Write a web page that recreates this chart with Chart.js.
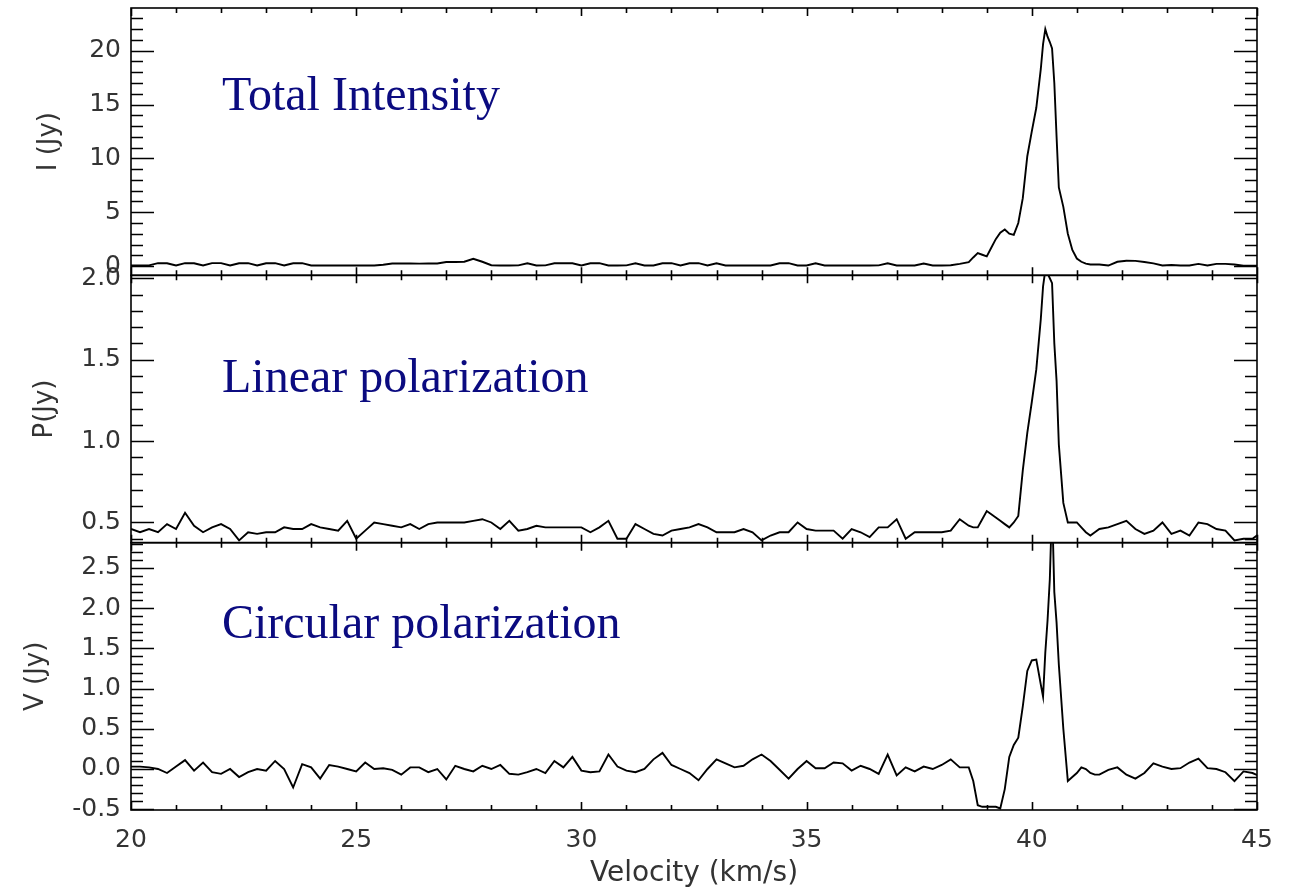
<!DOCTYPE html>
<html>
<head>
<meta charset="utf-8">
<script src="https://cdn.jsdelivr.net/npm/chart.js@4.4.1/dist/chart.umd.min.js"></script>
<style>
  html, body { margin: 0; padding: 0; background: #fff; }
  canvas { display: block; }
</style>
</head>
<body>
<canvas id="spectra" width="1289" height="891"></canvas>
<script>
// channel velocities (km/s): coarse on the baseline, finer across the line
const velocity = [
  20.0, 20.2, 20.4, 20.6, 20.8, 21.0, 21.2, 21.4, 21.6, 21.8,
  22.0, 22.2, 22.4, 22.6, 22.8, 23.0, 23.2, 23.4, 23.6, 23.8,
  24.0, 24.2, 24.4, 24.6, 24.8, 25.0, 25.2, 25.4, 25.6, 25.8,
  26.0, 26.2, 26.4, 26.6, 26.8, 27.0, 27.2, 27.4, 27.6, 27.8,
  28.0, 28.2, 28.4, 28.6, 28.8, 29.0, 29.2, 29.4, 29.6, 29.8,
  30.0, 30.2, 30.4, 30.6, 30.8, 31.0, 31.2, 31.4, 31.6, 31.8,
  32.0, 32.2, 32.4, 32.6, 32.8, 33.0, 33.2, 33.4, 33.6, 33.8,
  34.0, 34.2, 34.4, 34.6, 34.8, 35.0, 35.2, 35.4, 35.6, 35.8,
  36.0, 36.2, 36.4, 36.6, 36.8, 37.0, 37.2, 37.4, 37.6, 37.8,
  38.0, 38.2, 38.4, 38.6,
  38.7, 38.8, 38.9, 39.0, 39.1, 39.2, 39.3, 39.4, 39.5, 39.6, 39.7, 39.8, 39.9, 40.0, 40.1, 40.2,
  40.25, 40.3, 40.35, 40.4, 40.45, 40.5, 40.55,
  40.6, 40.7, 40.8, 40.9, 41.0, 41.1, 41.2, 41.3, 41.4, 41.5,
  41.7, 41.9, 42.1, 42.3, 42.5, 42.7, 42.9, 43.1, 43.3, 43.5, 43.7, 43.9, 44.1, 44.3, 44.5, 44.7, 44.9, 45.1
];

// Stokes I (Jy)
const stokesI = [
  0.05, 0.05, 0.06, 0.27, 0.26, 0.06, 0.27, 0.26, 0.05, 0.27,
  0.27, 0.05, 0.26, 0.27, 0.05, 0.26, 0.27, 0.06, 0.26, 0.27,
  0.05, 0.05, 0.06, 0.05, 0.05, 0.05, 0.06, 0.05, 0.12, 0.24,
  0.24, 0.24, 0.23, 0.24, 0.24, 0.38, 0.38, 0.40, 0.68, 0.40,
  0.08, 0.05, 0.05, 0.06, 0.26, 0.05, 0.06, 0.26, 0.27, 0.26,
  0.05, 0.26, 0.27, 0.05, 0.05, 0.06, 0.26, 0.05, 0.05, 0.26,
  0.27, 0.05, 0.26, 0.27, 0.05, 0.26, 0.05, 0.05, 0.06, 0.05,
  0.05, 0.05, 0.26, 0.27, 0.05, 0.05, 0.26, 0.05, 0.05, 0.06,
  0.05, 0.05, 0.05, 0.06, 0.26, 0.05, 0.05, 0.05, 0.24, 0.05,
  0.05, 0.08, 0.20, 0.37,
  0.8, 1.2, 1.05, 0.9, 1.7, 2.5, 3.1, 3.4, 3.0, 2.9, 4.0, 6.3, 10.2, 12.5, 14.7, 18.3,
  20.6, 22.0, 21.3, 20.8, 20.2, 17.0, 12.0,
  7.3, 5.5, 3.0, 1.5, 0.7, 0.4, 0.22, 0.15, 0.15, 0.15,
  0.05, 0.40, 0.50, 0.48, 0.38, 0.25, 0.05, 0.10, 0.05, 0.05, 0.20, 0.05, 0.20, 0.20, 0.15, 0.03, 0.03, 0.03
];

// linearly polarized flux P (Jy)
const stokesP = [
  0.46, 0.44, 0.46, 0.44, 0.49, 0.46, 0.56, 0.48, 0.44, 0.47,
  0.49, 0.46, 0.39, 0.44, 0.43, 0.44, 0.44, 0.47, 0.46, 0.46,
  0.49, 0.47, 0.46, 0.45, 0.51, 0.40, 0.45, 0.50, 0.49, 0.48,
  0.47, 0.49, 0.46, 0.49, 0.50, 0.50, 0.50, 0.50, 0.51, 0.52,
  0.50, 0.46, 0.51, 0.45, 0.46, 0.48, 0.47, 0.47, 0.47, 0.47,
  0.47, 0.44, 0.47, 0.51, 0.40, 0.40, 0.49, 0.46, 0.43, 0.42,
  0.45, 0.46, 0.47, 0.49, 0.47, 0.44, 0.44, 0.44, 0.46, 0.44,
  0.39, 0.42, 0.44, 0.44, 0.50, 0.46, 0.45, 0.45, 0.45, 0.40,
  0.46, 0.44, 0.41, 0.47, 0.47, 0.52, 0.40, 0.44, 0.44, 0.44,
  0.44, 0.45, 0.52, 0.48,
  0.47, 0.47, 0.52, 0.57, 0.55, 0.53, 0.51, 0.49, 0.47, 0.50, 0.54, 0.82, 1.05, 1.24, 1.44, 1.75,
  1.95, 2.05, 2.03, 2.00, 1.97, 1.60, 1.37,
  0.98, 0.62, 0.50, 0.50, 0.50, 0.47, 0.44, 0.42, 0.44, 0.46,
  0.47, 0.49, 0.51, 0.46, 0.43, 0.45, 0.50, 0.43, 0.45, 0.42, 0.50, 0.49, 0.46, 0.45, 0.39, 0.40, 0.40, 0.44
];

// Stokes V (Jy)
const stokesV = [
  0.03, 0.03, 0.02, 0.00, -0.05, 0.03, 0.11, -0.02, 0.08, -0.04,
  -0.06, 0.00, -0.10, -0.04, 0.00, -0.02, 0.10, 0.00, -0.23, 0.06,
  0.02, -0.12, 0.05, 0.03, 0.00, -0.03, 0.08, 0.00, 0.01, -0.01,
  -0.07, 0.02, 0.02, -0.04, 0.00, -0.13, 0.04, 0.00, -0.03, 0.04,
  0.00, 0.05, -0.06, -0.07, -0.04, 0.00, -0.05, 0.10, 0.02, 0.15,
  -0.02, -0.04, -0.03, 0.18, 0.03, -0.02, -0.04, 0.00, 0.12, 0.20,
  0.05, 0.00, -0.05, -0.14, 0.00, 0.12, 0.07, 0.02, 0.04, 0.12,
  0.18, 0.10, -0.01, -0.12, 0.00, 0.10, 0.01, 0.01, 0.08, 0.07,
  -0.02, 0.04, 0.00, -0.06, 0.18, -0.08, 0.02, -0.03, 0.03, 0.00,
  0.05, 0.12, 0.02, 0.02,
  -0.15, -0.45, -0.47, -0.47, -0.47, -0.47, -0.49, -0.25, 0.15, 0.30, 0.39, 0.78, 1.22, 1.35, 1.36, 1.05,
  0.90, 1.45, 1.85, 2.36, 3.30, 2.20, 1.82,
  1.30, 0.50, -0.15, -0.10, -0.05, 0.02, 0.00, -0.05, -0.07, -0.07,
  -0.01, 0.02, -0.07, -0.12, -0.05, 0.07, 0.03, 0.00, 0.01, 0.08, 0.13, 0.01, 0.00, -0.04, -0.15, -0.03, -0.05, -0.10
];

const panelTitles = ['Total Intensity', 'Linear polarization', 'Circular polarization'];
const axisTitles = ['I (Jy)', 'P(Jy)', 'V (Jy)'];

// one entry per stacked panel, top to bottom
const panels = [
  { id: 'yI', data: stokesI, min: -0.86, max: 23.96, major: 5, minor: 1, titlePad: 34, label: [22.02, 14.5] },
  { id: 'yP', data: stokesP, min: 0.376, max: 2.018, major: 0.5, minor: 0.1, titlePad: 30, label: [22.02, 1.30] },
  { id: 'yV', data: stokesV, min: -0.51, max: 2.815, major: 0.5, minor: 0.1, titlePad: 21, label: [22.02, 1.63] }
];

const tickFont = { family: 'DejaVu Sans', size: 25 };
const titleFont = { family: 'DejaVu Sans', size: 26 };
const inkGrey = '#333';

// IDL-style box with inward ticks on all four sides of every panel
const frameTicks = {
  id: 'frameTicks',
  afterDatasetsDraw(chart) {
    const { ctx } = chart;
    const xs = chart.scales.x;
    ctx.save();
    ctx.strokeStyle = '#000';
    ctx.lineWidth = 1.6;
    panels.forEach(p => {
      const ys = chart.scales[p.id];
      ctx.strokeRect(xs.left, ys.top, xs.right - xs.left, ys.bottom - ys.top);
      ctx.beginPath();
      const n0 = Math.ceil(ys.min / p.minor - 1e-6);
      const n1 = Math.floor(ys.max / p.minor + 1e-6);
      for (let n = n0; n <= n1; n++) {
        const v = n * p.minor;
        const isMajor = Math.abs(v / p.major - Math.round(v / p.major)) < 1e-6;
        const len = isMajor ? 23 : 12;
        const py = Math.round(ys.getPixelForValue(v)) + 0.5;
        ctx.moveTo(xs.left, py); ctx.lineTo(xs.left + len, py);
        ctx.moveTo(xs.right, py); ctx.lineTo(xs.right - len, py);
      }
      for (let v = 20; v <= 45; v++) {
        const len = v % 5 === 0 ? 8 : 5;
        const px = Math.round(xs.getPixelForValue(v)) + 0.5;
        ctx.moveTo(px, ys.top); ctx.lineTo(px, ys.top + len);
        ctx.moveTo(px, ys.bottom); ctx.lineTo(px, ys.bottom - len);
      }
      ctx.stroke();
    });
    ctx.restore();
  },
  afterDraw(chart) {
    const { ctx } = chart;
    const xs = chart.scales.x;
    ctx.save();
    ctx.fillStyle = '#0b0b80';
    ctx.font = '48px "Liberation Serif", "Times New Roman", serif';
    ctx.textBaseline = 'alphabetic';
    ctx.textAlign = 'left';
    panels.forEach((p, i) => {
      const ys = chart.scales[p.id];
      ctx.fillText(panelTitles[i], xs.getPixelForValue(p.label[0]), ys.getPixelForValue(p.label[1]));
    });
    ctx.restore();
  }
};

const scales = {
  x: {
    type: 'linear',
    position: 'bottom',
    min: 20,
    max: 45,
    grid: { display: false },
    border: { display: false },
    ticks: { stepSize: 5, padding: 7, font: tickFont, color: inkGrey, maxRotation: 0, autoSkip: false },
    title: { display: true, text: 'Velocity (km/s)', font: { family: 'DejaVu Sans', size: 28 }, color: inkGrey, padding: { top: 0, bottom: 0 } },
    afterFit: s => {
      s.height = 81;
      s.paddingLeft = 0;
      s.paddingRight = 0;
    }
  }
};

// stacked left axes; the last one defined ends up on top
panels.slice().reverse().forEach(p => {
  const i = panels.indexOf(p);
  scales[p.id] = {
    type: 'linear',
    position: 'left',
    stack: 'stokes',
    stackWeight: 1,
    min: p.min,
    max: p.max,
    grid: { display: false },
    border: { display: false },
    ticks: {
      stepSize: p.major,
      includeBounds: false,
      autoSkip: false,
      padding: 2,
      font: tickFont,
      color: inkGrey,
      callback: v => (p.major < 1 ? v.toFixed(1) : String(Math.round(v)))
    },
    title: { display: true, text: axisTitles[i], font: titleFont, color: inkGrey, padding: { top: p.titlePad, bottom: 0 } },
    afterFit: s => {
      s.width = 131;
      s.paddingTop = 0;
      s.paddingBottom = 0;
    }
  };
});

new Chart(document.getElementById('spectra'), {
  type: 'line',
  data: {
    datasets: panels.map((p, i) => ({
      label: axisTitles[i],
      data: velocity.map((v, k) => ({ x: v, y: p.data[k] })),
      xAxisID: 'x',
      yAxisID: p.id,
      borderColor: '#000',
      borderWidth: 1.9,
      pointRadius: 0,
      tension: 0,
      fill: false
    }))
  },
  options: {
    responsive: false,
    animation: false,
    layout: { padding: { left: 0, top: 8, right: 32, bottom: 0 } },
    plugins: { legend: { display: false }, tooltip: { enabled: false } },
    scales: scales
  },
  plugins: [frameTicks]
});
</script>
</body>
</html>
